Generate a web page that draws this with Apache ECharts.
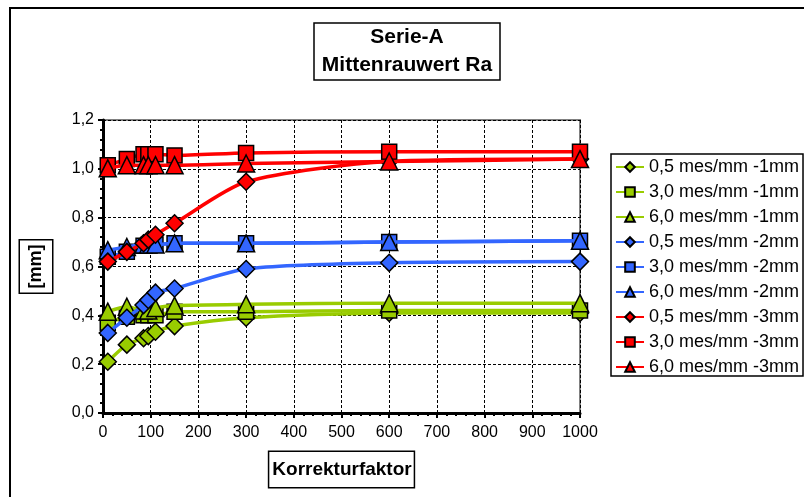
<!DOCTYPE html>
<html>
<head>
<meta charset="utf-8">
<script src="https://cdn.jsdelivr.net/npm/echarts@6/dist/echarts.min.js"></script>
<style>
html,body{margin:0;padding:0;background:#fff;}
#c{width:804px;height:497px;}
</style>
</head>
<body>
<div id="c"></div>
<script>
const xValues = [10, 50, 85, 95, 110, 150, 300, 600, 1000];
const seriesNames = [
  '0,5 mes/mm -1mm', '3,0 mes/mm -1mm', '6,0 mes/mm -1mm',
  '0,5 mes/mm -2mm', '3,0 mes/mm -2mm', '6,0 mes/mm -2mm',
  '0,5 mes/mm -3mm', '3,0 mes/mm -3mm', '6,0 mes/mm -3mm'
];
const g05_1 = [0.21, 0.28, 0.306, 0.315, 0.333, 0.356, 0.39, 0.41, 0.41];
const g30_1 = [0.37, 0.394, 0.40, 0.40, 0.40, 0.415, 0.415, 0.42, 0.42];
const g60_1 = [0.415, 0.435, 0.42, 0.42, 0.43, 0.44, 0.445, 0.45, 0.45];
const b05_2 = [0.328, 0.39, 0.442, 0.463, 0.493, 0.51, 0.59, 0.615, 0.62];
const b30_2 = [0.64, 0.66, 0.685, 0.688, 0.69, 0.695, 0.695, 0.70, 0.705];
const b60_2 = [0.667, 0.68, 0.69, 0.69, 0.69, 0.695, 0.695, 0.70, 0.705];
const r05_3 = [0.62, 0.66, 0.695, 0.71, 0.73, 0.777, 0.947, 1.03, 1.04];
const r30_3 = [1.015, 1.04, 1.06, 1.06, 1.06, 1.055, 1.065, 1.07, 1.07];
const r60_3 = [1.002, 1.015, 1.015, 1.015, 1.015, 1.015, 1.022, 1.03, 1.04];
const yTicks = ['0,0', '0,2', '0,4', '0,6', '0,8', '1,0', '1,2'];

const allValues = [g05_1, g30_1, g60_1, b05_2, b30_2, b60_2, r05_3, r30_3, r60_3];
const colors = ['#99CC00', '#99CC00', '#99CC00', '#3366FF', '#3366FF', '#3366FF', '#FF0000', '#FF0000', '#FF0000'];
const symbols = ['diamond', 'rect', 'triangle'];
const symSizes = [17, 15, 17];
const FONT = 'Liberation Sans, Arial, sans-serif';

const series = allValues.map((vals, i) => ({
  name: seriesNames[i],
  type: 'line',
  data: xValues.map((x, j) => [x, vals[j]]),
  smooth: 0.25,
  symbol: symbols[i % 3],
  symbolSize: symSizes[i % 3],
  showAllSymbol: true,
  lineStyle: { color: colors[i], width: 3.5 },
  itemStyle: { color: colors[i], borderColor: '#000', borderWidth: 1.5 },
  emphasis: { disabled: true },
  z: 3 + i
}));

const chart = echarts.init(document.getElementById('c'), null, { renderer: 'canvas' });
chart.setOption({
  animation: false,
  backgroundColor: '#fff',
  textStyle: { fontFamily: FONT },
  grid: {
    left: 103, right: 224, top: 120, bottom: 84,
    show: true, borderColor: '#808080', borderWidth: 2, backgroundColor: 'transparent'
  },
  graphic: [
    { type: 'rect', shape: { x: 10, y: 8, width: 820, height: 520 }, style: { fill: 'none', stroke: '#000', lineWidth: 2 }, z: 0 },
    { type: 'rect', shape: { x: 314, y: 23, width: 186, height: 57 }, style: { fill: '#fff', stroke: '#000', lineWidth: 1.5 }, z: 10 },
    { type: 'text', x: 407, y: 51, z: 11,
      style: { text: 'Serie-A\nMittenrauwert Ra', align: 'center', verticalAlign: 'middle',
        font: 'bold 21px Liberation Sans, Arial, sans-serif', lineHeight: 28, fill: '#000' } }
  ],
  legend: {
    orient: 'vertical',
    left: 611, top: 154,
    padding: [4, 4, 0, 4],
    itemWidth: 28, itemHeight: 12, itemGap: 7,
    borderColor: '#000', borderWidth: 1.5, backgroundColor: '#fff',
    textStyle: { fontFamily: FONT, fontSize: 18, color: '#000' },
    data: seriesNames
  },
  xAxis: {
    type: 'value', min: 0, max: 1000, interval: 100,
    name: 'Korrekturfaktor', nameLocation: 'middle', nameGap: 39,
    nameTextStyle: { fontFamily: FONT, fontSize: 19, fontWeight: 'bold', color: '#000',
      borderColor: '#000', borderWidth: 1.5, padding: [8, 2, 8, 3], backgroundColor: '#fff' },
    axisLine: { show: true, onZero: false, lineStyle: { color: '#000', width: 3 } },
    axisTick: { show: true, length: 5, lineStyle: { color: '#000', width: 2 } },
    minorTick: { show: true, splitNumber: 5, length: 3, lineStyle: { color: '#000', width: 2 } },
    axisLabel: { fontFamily: FONT, fontSize: 16, color: '#000', margin: 12,
      formatter: (v) => String(v) },
    splitLine: { show: true, lineStyle: { color: '#000', type: [3, 2], width: 1 } }
  },
  yAxis: {
    type: 'value', min: 0, max: 1.2, interval: 0.2,
    name: '[mm]', nameLocation: 'middle', nameRotate: 90, nameGap: 51,
    nameTextStyle: { fontFamily: FONT, fontSize: 18, fontWeight: 'bold', color: '#000',
      borderColor: '#000', borderWidth: 1.5, padding: [7, 4, 7, 4], backgroundColor: '#fff' },
    axisLine: { show: true, onZero: false, lineStyle: { color: '#000', width: 3 } },
    axisTick: { show: true, length: 5, lineStyle: { color: '#000', width: 2 } },
    minorTick: { show: true, splitNumber: 5, length: 3, lineStyle: { color: '#000', width: 2 } },
    axisLabel: { fontFamily: FONT, fontSize: 16, color: '#000', margin: 9,
      formatter: (v) => yTicks[Math.round(v / 0.2)] },
    splitLine: { show: true, lineStyle: { color: '#000', type: [3, 2], width: 1 } }
  },
  series: series
});
</script>
</body>
</html>
